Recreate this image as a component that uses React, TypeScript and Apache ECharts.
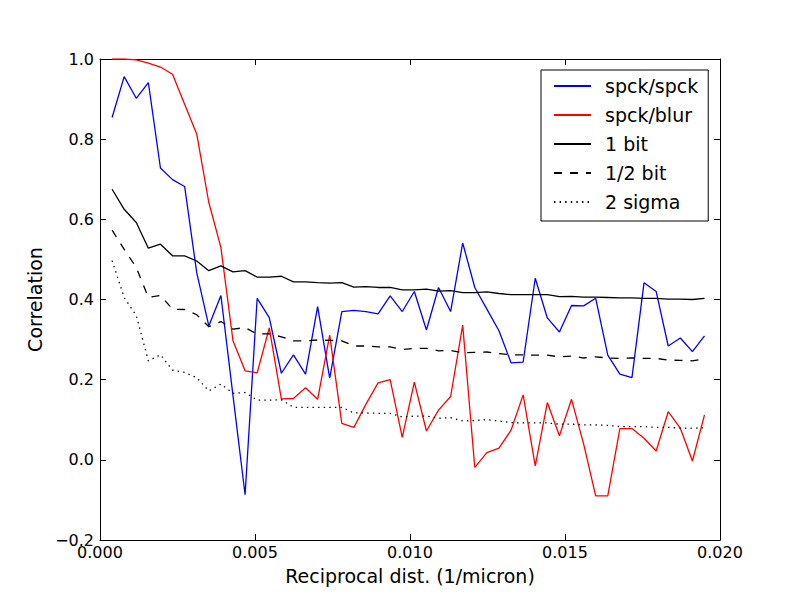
import React, { useEffect, useRef } from "react";
import * as echarts from "echarts";

const xValues = [
  0.00039, 0.00078, 0.00117, 0.00156, 0.00195, 0.00234, 0.00273, 0.00312, 0.00351, 0.0039,
  0.00429, 0.00468, 0.00507, 0.00546, 0.00585, 0.00624, 0.00663, 0.00702, 0.00741, 0.0078,
  0.00819, 0.00858, 0.00897, 0.00936, 0.00975, 0.01014, 0.01053, 0.01092, 0.01131, 0.0117,
  0.01209, 0.01248, 0.01287, 0.01326, 0.01365, 0.01404, 0.01443, 0.01482, 0.01521, 0.0156,
  0.01599, 0.01638, 0.01677, 0.01716, 0.01755, 0.01794, 0.01833, 0.01872, 0.01911, 0.0195,
];

const spckSpck = [
  0.854, 0.956, 0.902, 0.941, 0.728, 0.699, 0.682, 0.467, 0.334, 0.41,
  0.16, -0.087, 0.403, 0.355, 0.216, 0.262, 0.214, 0.382, 0.204, 0.37,
  0.373, 0.37, 0.364, 0.409, 0.37, 0.42, 0.324, 0.43, 0.37, 0.541,
  0.43, 0.376, 0.322, 0.242, 0.244, 0.453, 0.354, 0.319, 0.385, 0.384,
  0.403, 0.261, 0.214, 0.205, 0.442, 0.42, 0.284, 0.304, 0.27, 0.309,
];

const spckBlur = [
  1.0, 1.0, 0.998, 0.99, 0.98, 0.962, 0.887, 0.813, 0.642, 0.53,
  0.297, 0.222, 0.217, 0.329, 0.152, 0.153, 0.18, 0.151, 0.311, 0.091,
  0.081, 0.139, 0.192, 0.2, 0.056, 0.194, 0.072, 0.124, 0.158, 0.336,
  -0.019, 0.018, 0.029, 0.074, 0.162, -0.015, 0.143, 0.06, 0.151, 0.04,
  -0.09, -0.09, 0.078, 0.078, 0.054, 0.022, 0.12, 0.079, -0.003, 0.112,
];

const oneBit = [
  0.675, 0.625, 0.592, 0.528, 0.538, 0.509, 0.509, 0.496, 0.472, 0.484,
  0.469, 0.472, 0.456, 0.456, 0.458, 0.444, 0.444, 0.442, 0.441, 0.442,
  0.431, 0.432, 0.43, 0.43, 0.424, 0.424, 0.426, 0.421, 0.422, 0.417,
  0.417, 0.419, 0.415, 0.412, 0.412, 0.412, 0.412, 0.407, 0.408, 0.406,
  0.406, 0.405, 0.404, 0.404, 0.403, 0.403, 0.401, 0.401, 0.4, 0.403,
];

const halfBit = [
  0.573, 0.525, 0.48, 0.405, 0.41, 0.376, 0.375, 0.362, 0.332, 0.345,
  0.326, 0.33, 0.314, 0.314, 0.307, 0.297, 0.297, 0.299, 0.298, 0.297,
  0.284, 0.284, 0.282, 0.282, 0.275, 0.278, 0.278, 0.272, 0.273, 0.267,
  0.268, 0.269, 0.265, 0.262, 0.262, 0.261, 0.261, 0.257, 0.259, 0.254,
  0.257, 0.254, 0.253, 0.254, 0.253, 0.253, 0.249, 0.248, 0.247, 0.252,
];

const twoSigma = [
  0.497, 0.405, 0.36, 0.247, 0.262, 0.224, 0.218, 0.205, 0.172, 0.189,
  0.166, 0.168, 0.149, 0.149, 0.15, 0.131, 0.131, 0.131, 0.131, 0.131,
  0.117, 0.117, 0.116, 0.116, 0.107, 0.109, 0.109, 0.104, 0.105, 0.097,
  0.098, 0.1, 0.097, 0.093, 0.092, 0.092, 0.092, 0.089, 0.089, 0.087,
  0.087, 0.086, 0.083, 0.083, 0.083, 0.081, 0.081, 0.079, 0.079, 0.08,
];

const seriesNames = ["spck/spck", "spck/blur", "1 bit", "1/2 bit", "2 sigma"];

const FONT = "DejaVu Sans";

function pairs(ys: number[]) {
  return ys.map((y, i) => [xValues[i], y]);
}

export default function App() {
  const ref = useRef<HTMLDivElement>(null);

  useEffect(() => {
    if (!ref.current) return;
    const chart = echarts.init(ref.current, null, { renderer: "svg" });

    const tickCommon = {
      axisLine: { show: true, onZero: false, lineStyle: { color: "#000", width: 1 } },
      axisTick: { show: true, inside: true, length: 6, lineStyle: { color: "#000", width: 1 } },
      splitLine: { show: false },
    };

    const lineSeries = (name: string, ys: number[], color: string, type: any) => ({
      name,
      type: "line",
      data: pairs(ys),
      symbol: "none",
      showSymbol: false,
      xAxisIndex: 0,
      yAxisIndex: 0,
      lineStyle: { color, width: 1.3, type },
      itemStyle: { color },
      clip: true,
    });

    chart.setOption({
      animation: false,
      backgroundColor: "#fff",
      textStyle: { fontFamily: FONT },
      grid: { left: 100, right: 80, top: 59, bottom: 60, containLabel: false, outerBoundsMode: "none" },
      legend: {
        orient: "vertical",
        left: 541,
        top: 70,
        padding: [6, 10, 9, 12],
        itemGap: 9,
        itemWidth: 37,
        itemHeight: 14,
        borderColor: "#000",
        borderWidth: 1,
        borderRadius: 0,
        backgroundColor: "#fff",
        selectedMode: false,
        itemStyle: { opacity: 0, borderWidth: 0 },
        data: seriesNames,
        textStyle: {
          fontFamily: FONT,
          fontSize: 19,
          color: "#000",
          lineHeight: 20,
          padding: [0, 0, 0, 9],
        },
      },
      xAxis: [
        {
          type: "value",
          position: "bottom",
          min: 0,
          max: 0.02,
          interval: 0.005,
          name: "Reciprocal dist. (1/micron)",
          nameLocation: "middle",
          nameGap: 26,
          nameTextStyle: { fontFamily: FONT, fontSize: 19, color: "#000" },
          axisLabel: {
            fontFamily: FONT,
            fontSize: 16,
            color: "#000",
            margin: 4,
            formatter: (v: number) => v.toFixed(3),
          },
          ...tickCommon,
        },
        {
          type: "value",
          position: "top",
          min: 0,
          max: 0.02,
          interval: 0.005,
          axisLabel: { show: false },
          ...tickCommon,
        },
      ],
      yAxis: [
        {
          type: "value",
          position: "left",
          min: -0.2,
          max: 1.0,
          interval: 0.2,
          name: "Correlation",
          nameLocation: "middle",
          nameGap: 50,
          nameRotate: 90,
          nameTextStyle: { fontFamily: FONT, fontSize: 19, color: "#000" },
          axisLabel: {
            fontFamily: FONT,
            fontSize: 16,
            color: "#000",
            margin: 6,
            formatter: (v: number) => v.toFixed(1).replace("-", "\u2212"),
          },
          ...tickCommon,
        },
        {
          type: "value",
          position: "right",
          min: -0.2,
          max: 1.0,
          interval: 0.2,
          axisLabel: { show: false },
          ...tickCommon,
        },
      ],
      series: [
        lineSeries(seriesNames[0], spckSpck, "#0000ff", "solid"),
        lineSeries(seriesNames[1], spckBlur, "#ff0000", "solid"),
        lineSeries(seriesNames[2], oneBit, "#000000", "solid"),
        lineSeries(seriesNames[3], halfBit, "#000000", [8, 8]),
        lineSeries(seriesNames[4], twoSigma, "#000000", [1.4, 4.2]),
      ],
    });

    return () => chart.dispose();
  }, []);

  return (
    <div
      ref={ref}
      style={{ position: "fixed", left: 0, top: 0, width: 800, height: 600, background: "#fff" }}
    />
  );
}
